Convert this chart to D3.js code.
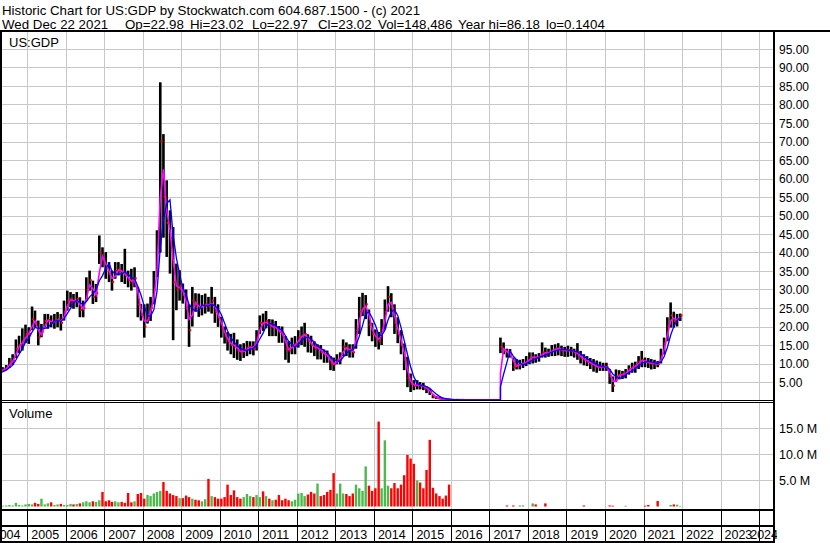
<!DOCTYPE html>
<html>
<head>
<meta charset="utf-8">
<script src="https://cdn.jsdelivr.net/npm/d3@7"></script>
<style>
  body { margin: 0; background: #fff; }
  svg { display: block; font-family: "Liberation Sans", Arial, sans-serif; }
</style>
</head>
<body>
<div id="chart"></div>
<script>
// monthly bars, starting Jan 2004 (null = no trading)
const startYear = 2004;
const N = null;

const highs = [
  7.5, 8.0, 8.2, 8.6, 9.0, 9.6, 11.5, 12.5, 16.5, 17.5, 19.5, 20.5,        // 2004
  19.8, 25.4, 24.3, 21.6, 20.7, 23.4, 23.4, 23.0, 23.4, 23.9, 23.4, 27.0,  // 2005
  29.7, 29.3, 28.8, 29.3, 27.9, 27.0, 33.3, 35.1, 32.4, 31.5, 44.6, 41.4,  // 2006
  40.1, 37.4, 35.1, 37.4, 37.4, 36.9, 41.0, 35.1, 35.6, 36.0, 30.6, 26.1,  // 2007
  26.0, 26.2, 28.0, 35.0, 46.0, 86.0, 72.0, 59.5, 51.4, 46.9, 37.0, 35.2,  // 2008
  31.6, 30.0, 26.0, 30.7, 29.0, 28.9, 28.5, 28.9, 28.0, 30.7, 28.0, 26.0,  // 2009
  22.6, 20.0, 18.5, 18.0, 18.3, 16.5, 15.2, 15.5, 16.1, 16.0, 16.0, 19.0,  // 2010
  23.0, 23.5, 24.2, 22.0, 21.9, 21.5, 20.1, 20.0, 17.4, 16.0, 17.0, 17.4,  // 2011
  19.0, 20.0, 21.0, 17.9, 17.5, 16.0, 15.2, 15.0, 13.8, 13.5, 12.0, 11.6,  // 2012
  12.5, 13.0, 16.5, 15.7, 15.2, 15.2, 22.0, 28.0, 29.1, 28.5, 24.6, 21.0,  // 2013
  19.2, 18.5, 22.0, 27.3, 30.9, 29.0, 26.0, 22.5, 19.0, 15.4, 11.8, 7.3,   // 2014
  5.5, 5.5, 5.0, 4.8, 3.8, 3.2, 1.6, 1.2, 1.0, 0.8, 0.6, 0.5,              // 2015
  0.4, 0.35, 0.3, 0.3, N, N, N, N, N, N, N, N,                             // 2016
  N, N, N, 17.0, 15.7, 14.0, 13.9, 11.6, 11.2, 11.0, 11.2, 12.0,           // 2017
  13.0, 13.0, 12.5, 12.8, 15.7, 14.3, 14.0, 15.0, 15.2, 15.5, 14.8, 14.5,  // 2018
  14.8, 14.5, 14.0, 15.5, 13.4, 12.5, 12.0, 11.5, 11.2, 10.8, 10.5, 10.2,  // 2019
  10.2, 8.5, 6.5, 8.4, 8.2, 8.0, 8.5, 9.5, 10.2, 10.5, 12.0, 13.4,         // 2020
  11.6, 11.5, 11.2, 11.0, 10.7, 14.0, 17.0, 22.5, 26.5, 24.0, 23.4, 23.5   // 2021
];

const lows = [
  6.5, 6.8, 7.0, 7.7, 7.9, 8.2, 8.8, 9.6, 11.5, 12.8, 13.5, 15.5,          // 2004
  15.3, 19.0, 19.8, 14.9, 17.1, 19.8, 19.4, 19.8, 19.4, 19.8, 18.9, 21.6,  // 2005
  24.3, 25.2, 24.8, 25.2, 22.5, 22.5, 27.0, 29.7, 26.1, 26.6, 36.9, 36.0,  // 2006
  32.9, 32.0, 29.7, 32.9, 33.8, 32.0, 31.5, 30.6, 29.7, 30.6, 22.5, 21.6,  // 2007
  17.0, 20.8, 21.5, 26.0, 33.4, 40.0, 44.0, 38.8, 34.3, 16.3, 24.4, 27.0,  // 2008
  26.2, 22.0, 14.5, 20.0, 24.0, 22.6, 23.0, 23.5, 24.0, 23.5, 21.0, 19.9,  // 2009
  17.0, 15.4, 13.5, 12.5, 11.5, 11.0, 10.7, 11.5, 12.0, 12.5, 12.2, 13.5,  // 2010
  18.0, 18.8, 19.5, 17.4, 17.4, 17.4, 15.6, 15.6, 11.0, 10.2, 12.5, 12.5,  // 2011
  14.3, 15.0, 14.5, 13.0, 12.9, 12.0, 11.1, 11.1, 10.2, 10.2, 8.2, 8.0,    // 2012
  9.8, 9.8, 12.0, 12.0, 11.6, 11.6, 14.0, 18.0, 22.8, 22.0, 17.4, 16.0,    // 2013
  14.5, 13.8, 15.0, 19.2, 24.0, 22.5, 18.0, 15.5, 12.5, 8.2, 3.6, 2.3,     // 2014
  2.8, 3.0, 3.0, 2.8, 2.0, 1.5, 0.6, 0.4, 0.3, 0.2, 0.15, 0.14,            // 2015
  0.14, 0.14, 0.14, 0.14, N, N, N, N, N, N, N, N,                          // 2016
  N, N, N, 12.8, 12.5, 11.6, 11.6, 8.0, 8.4, 8.4, 8.8, 9.3,                // 2017
  9.8, 10.0, 10.2, 10.5, 11.6, 11.6, 11.8, 12.0, 12.0, 12.2, 12.0, 11.8,   // 2018
  11.8, 12.0, 11.6, 11.0, 10.0, 9.5, 9.3, 8.5, 7.8, 7.5, 8.0, 8.0,         // 2019
  8.0, 4.5, 2.3, 5.0, 5.7, 5.8, 6.0, 7.0, 7.5, 7.5, 8.5, 9.0,              // 2020
  9.0, 8.8, 8.4, 8.5, 9.0, 10.0, 12.5, 16.0, 19.7, 19.7, 20.0, 21.5        // 2021
];

const closes = [
  7.0, 7.2, 7.6, 8.1, 8.4, 8.8, 10.2, 10.8, 14.0, 15.0, 16.0, 18.0,        // 2004
  18.0, 22.0, 21.0, 17.0, 18.5, 21.5, 21.8, 21.0, 21.5, 22.0, 21.0, 24.0,  // 2005
  27.0, 27.5, 26.5, 27.5, 24.5, 25.0, 30.0, 32.5, 28.0, 29.0, 40.0, 38.0,  // 2006
  36.0, 34.0, 32.0, 35.0, 35.5, 34.5, 34.0, 32.5, 32.0, 33.0, 26.0, 23.0,  // 2007
  20.0, 23.0, 25.0, 30.0, 40.0, 70.0, 55.0, 48.0, 44.0, 32.0, 30.0, 31.0,  // 2008
  28.5, 25.0, 19.0, 27.0, 26.0, 25.0, 25.5, 26.0, 25.5, 27.0, 24.0, 22.5,  // 2009
  19.5, 17.5, 16.0, 15.0, 14.8, 13.5, 13.0, 13.5, 14.3, 14.5, 14.0, 17.0,  // 2010
  21.0, 20.8, 21.5, 20.0, 20.0, 19.5, 18.5, 18.0, 14.0, 13.5, 15.0, 15.0,  // 2011
  17.0, 17.5, 18.0, 16.0, 15.0, 14.0, 14.5, 13.0, 12.5, 12.0, 10.0, 9.8,   // 2012
  11.0, 11.5, 14.5, 14.0, 13.5, 13.0, 19.0, 24.0, 25.0, 26.0, 20.5, 18.0,  // 2013
  17.0, 16.0, 19.0, 24.0, 28.0, 25.0, 21.0, 18.0, 15.0, 11.0, 6.0, 4.5,    // 2014
  4.0, 4.2, 4.0, 3.8, 3.0, 2.3, 1.0, 0.7, 0.5, 0.4, 0.3, 0.25,             // 2015
  0.2, 0.2, 0.18, 0.18, N, N, N, N, N, N, N, N,                            // 2016
  N, N, N, 14.5, 13.5, 13.0, 12.5, 9.0, 9.5, 9.8, 10.0, 10.5,              // 2017
  11.5, 11.8, 11.5, 11.8, 13.0, 12.8, 13.0, 13.5, 14.0, 14.0, 13.5, 13.5,  // 2018
  13.5, 13.5, 13.0, 12.5, 11.5, 11.0, 10.5, 10.0, 9.5, 9.0, 9.0, 9.2,      // 2019
  9.0, 6.5, 4.0, 6.5, 7.0, 7.0, 7.5, 8.5, 9.0, 9.5, 10.5, 11.0,            // 2020
  10.5, 10.2, 10.0, 10.0, 9.8, 12.0, 15.5, 20.0, 23.0, 21.5, 22.0, 23.0    // 2021
];

// volume, millions of shares
const volumes = [
  0, 0, 0.1, 0.1, 0.15, 0.2, 0.3, 0.2, 0.7, 0.3, 0.2, 0.4,                 // 2004
  0.5, 0.4, 0.7, 0.5, 1.5, 0.4, 0.6, 0.8, 0.3, 0.4, 0.5, 0.3,              // 2005
  0.3, 0.5, 0.4, 0.5, 0.6, 0.8, 1.0, 0.8, 1.0, 0.9, 1.2, 2.8,              // 2006
  1.0, 1.2, 0.9, 1.0, 0.8, 0.9, 0.7, 2.6, 0.8, 1.0, 2.4, 2.6,              // 2007
  1.5, 2.2, 2.0, 2.5, 2.8, 3.0, 4.7, 3.0, 2.5, 2.2, 2.0, 1.6,              // 2008
  1.6, 2.1, 1.8, 1.5, 1.3, 1.2, 1.0, 1.4, 5.3, 2.0, 1.8, 1.5,              // 2009
  1.5, 1.8, 4.2, 2.2, 3.1, 1.8, 1.5, 1.8, 2.4, 2.0, 1.8, 2.2,              // 2010
  1.8, 2.9, 2.0, 1.5, 1.2, 1.3, 2.2, 1.2, 1.5, 1.2, 1.0, 1.3,              // 2011
  2.5, 2.6, 2.0, 2.3, 2.8, 2.5, 4.4, 2.0, 2.2, 2.8, 3.2, 6.4,              // 2012
  2.5, 4.4, 2.5, 2.4, 2.0, 2.5, 4.2, 3.5, 3.0, 7.7, 4.0, 3.0,              // 2013
  3.5, 16.3, 3.5, 12.7, 4.0, 3.5, 4.5, 3.5, 4.2, 6.0, 9.9, 9.2,            // 2014
  8.2, 5.0, 4.6, 3.5, 7.0, 12.8, 3.6, 2.5, 2.0, 1.5, 2.1, 4.2,             // 2015
  0, 0, 0, 0, N, N, N, N, N, N, N, N,                                      // 2016
  N, N, N, 0, 0, 0.2, 0, 0.2, 0, 0.2, 0.2, 0,                              // 2017
  0, 0.6, 0.4, 0, 0, 0.6, 0, 0, 0, 0, 0, 0,                                // 2018
  0, 0, 0, 0, 0, 0.2, 0, 0, 0, 0, 0, 0,                                    // 2019
  0, 0.2, 0.15, 0, 0, 0, 0.15, 0, 0, 0, 0, 0,                              // 2020
  0.15, 0.3, 0, 0, 1.06, 0, 0, 0, 0.3, 0.4, 0.35, 0.1                      // 2021
];

const priceTicks = d3.range(5, 100, 5);
const volumeTicks = [5, 10, 15];
const yearLabels = d3.range(2004, 2025);

const headerTitle = 'Historic Chart for US:GDP by Stockwatch.com 604.687.1500 - (c) 2021';
const quoteFields = ['Wed Dec 22 2021', 'Op=22.98', 'Hi=23.02', 'Lo=22.97', 'Cl=23.02',
  'Vol=148,486', 'Year hi=86.18', 'lo=0.1404'];
const quoteX = [2, 125, 190, 252, 318, 378, 458, 546];

const width = 830, height = 543;
const plotLeft = 0, plotRight = 773;
const priceTop = 32, priceBottom = 400;
const volTop = 403, volBottom = 509;
const labelEdge = 777;

const bars = highs.map((h, i) => ({
  date: new Date(startYear + Math.floor(i / 12), i % 12, 15),
  high: h, low: lows[i], close: closes[i], volume: volumes[i]
})).filter(d => d.high !== null);

bars.forEach((d, i) => {
  d.up = i === 0 ? true : d.close >= bars[i - 1].close;
});

function movingAverage(n) {
  return bars.map((d, i) => {
    const win = bars.slice(Math.max(0, i - n + 1), i + 1);
    return { date: d.date, value: d3.mean(win, w => w.close) };
  });
}

const x = d3.scaleTime()
  .domain([new Date(2005, 0, 1), new Date(2024, 0, 1)])
  .range([27.3, 759]);
const y = d3.scaleLinear().domain([0, 100]).range([400.5, 30.5]);
const yv = d3.scaleLinear().domain([0, 20]).range([506.5, 402.3]);

const crisp = v => Math.round(v) + 0.5;

const svg = d3.select('#chart').append('svg')
  .attr('width', width)
  .attr('height', height);

svg.append('rect').attr('width', width).attr('height', height).attr('fill', '#fff');

const defs = svg.append('defs');
defs.append('clipPath').attr('id', 'clip-price')
  .append('rect').attr('x', 2).attr('y', priceTop)
  .attr('width', plotRight - 2).attr('height', priceBottom - priceTop);
defs.append('clipPath').attr('id', 'clip-vol')
  .append('rect').attr('x', 2).attr('y', volTop)
  .attr('width', plotRight - 2).attr('height', volBottom - volTop);
defs.append('clipPath').attr('id', 'clip-years')
  .append('rect').attr('x', 0).attr('y', 510).attr('width', labelEdge).attr('height', 33);

// header
svg.append('text')
  .attr('x', 2).attr('y', 14.5)
  .attr('font-size', 13.3)
  .text(headerTitle);

svg.append('g')
  .selectAll('text')
  .data(quoteFields)
  .join('text')
  .attr('x', (d, i) => quoteX[i])
  .attr('y', 28.5)
  .attr('font-size', 13.3)
  .text(d => d);

const years = d3.range(2005, 2025).map(yr => new Date(yr, 0, 1));

// grids
const grid = svg.append('g')
  .attr('stroke', '#c8c8c8')
  .attr('stroke-width', 1)
  .attr('shape-rendering', 'crispEdges');

grid.selectAll('.hp')
  .data(priceTicks)
  .join('line')
  .attr('x1', plotLeft).attr('x2', plotRight)
  .attr('y1', d => crisp(y(d))).attr('y2', d => crisp(y(d)));

grid.selectAll('.hv')
  .data(volumeTicks)
  .join('line')
  .attr('x1', plotLeft).attr('x2', plotRight)
  .attr('y1', d => crisp(yv(d))).attr('y2', d => crisp(yv(d)));

grid.selectAll('.vp')
  .data(years)
  .join('line')
  .attr('x1', d => crisp(x(d))).attr('x2', d => crisp(x(d)))
  .attr('y1', priceTop).attr('y2', priceBottom);

grid.selectAll('.vv')
  .data(years)
  .join('line')
  .attr('x1', d => crisp(x(d))).attr('x2', d => crisp(x(d)))
  .attr('y1', volTop).attr('y2', volBottom);

// price pane
const price = svg.append('g').attr('clip-path', 'url(#clip-price)');

price.append('g')
  .attr('fill', '#000')
  .selectAll('rect')
  .data(bars)
  .join('rect')
  .attr('x', d => x(d.date) - 1.3)
  .attr('width', 2.6)
  .attr('y', d => y(d.high))
  .attr('height', d => Math.max(1, y(d.low) - y(d.high)));

price.append('g')
  .attr('fill', '#ff0000')
  .selectAll('rect')
  .data(bars)
  .join('rect')
  .attr('x', d => x(d.date) + 0.2)
  .attr('width', 2)
  .attr('y', d => y(d.close) - 1)
  .attr('height', 2);

function maPath(pts) {
  const p = d3.path();
  pts.forEach((d, i) => {
    const px = x(d.date), py = y(d.value);
    if (i === 0) { p.moveTo(px, py); return; }
    const prev = pts[i - 1];
    // hold the last value across the trading halt
    if (d.date - prev.date > 40 * 864e5) p.lineTo(px, y(prev.value));
    p.lineTo(px, py);
  });
  return p.toString();
}

price.append('path')
  .attr('d', maPath(movingAverage(2)))
  .attr('fill', 'none')
  .attr('stroke', '#ff00ff')
  .attr('stroke-width', 1.6);

price.append('path')
  .attr('d', maPath(movingAverage(4)))
  .attr('fill', 'none')
  .attr('stroke', '#0000ff')
  .attr('stroke-width', 1.3);

svg.append('text')
  .attr('x', 9).attr('y', 46.5)
  .attr('font-size', 13)
  .text('US:GDP');

// volume pane
svg.append('g')
  .attr('clip-path', 'url(#clip-vol)')
  .selectAll('rect')
  .data(bars.filter(d => d.volume > 0))
  .join('rect')
  .attr('x', d => x(d.date) - 1.2)
  .attr('width', 2.4)
  .attr('y', d => yv(d.volume))
  .attr('height', d => yv(0) - yv(d.volume))
  .attr('fill', d => d.up ? '#4db84d' : '#ff0000');

svg.append('text')
  .attr('x', 9).attr('y', 417.5)
  .attr('font-size', 13)
  .text('Volume');

// right axis labels
svg.append('g')
  .selectAll('text')
  .data(priceTicks)
  .join('text')
  .attr('x', 779)
  .attr('y', d => y(d) + 4.5)
  .attr('font-size', 12)
  .text(d => d.toFixed(2));

svg.append('g')
  .selectAll('text')
  .data(volumeTicks)
  .join('text')
  .attr('x', 779)
  .attr('y', d => yv(d) + 4.5)
  .attr('font-size', 12.5)
  .text(d => d.toFixed(1) + ' M');

// time axis rows
const axis = svg.append('g').attr('shape-rendering', 'crispEdges');
axis.selectAll('.div')
  .data(years)
  .join('line')
  .attr('x1', d => crisp(x(d))).attr('x2', d => crisp(x(d)))
  .attr('y1', 510).attr('y2', 541)
  .attr('stroke', '#000');

svg.append('g')
  .attr('clip-path', 'url(#clip-years)')
  .selectAll('text')
  .data(yearLabels)
  .join('text')
  .attr('x', d => x(new Date(d, 0, 1)) + 4)
  .attr('y', 538.5)
  .attr('font-size', 12.5)
  .text(d => d)
  .each(function () {
    // a label that would run past the right edge is pulled back to fit
    const w = this.getComputedTextLength();
    const x0 = +this.getAttribute('x');
    if (x0 + w > labelEdge + 1) this.setAttribute('x', labelEdge + 1 - w);
  });

// frame lines
const frame = svg.append('g').attr('fill', '#000').attr('shape-rendering', 'crispEdges');
frame.append('rect').attr('x', 0).attr('y', 30).attr('width', width).attr('height', 2);
frame.append('rect').attr('x', 0).attr('y', 31).attr('width', 2).attr('height', 512);
frame.append('rect').attr('x', 773).attr('y', 31).attr('width', 2).attr('height', 512);
frame.append('rect').attr('x', 0).attr('y', 400).attr('width', 775).attr('height', 1);
frame.append('rect').attr('x', 0).attr('y', 402).attr('width', 775).attr('height', 1);
frame.append('rect').attr('x', 0).attr('y', 509).attr('width', 775).attr('height', 2);
frame.append('rect').attr('x', 0).attr('y', 525).attr('width', 775).attr('height', 2);
frame.append('rect').attr('x', 0).attr('y', 541).attr('width', 775).attr('height', 2);
</script>
</body>
</html>
